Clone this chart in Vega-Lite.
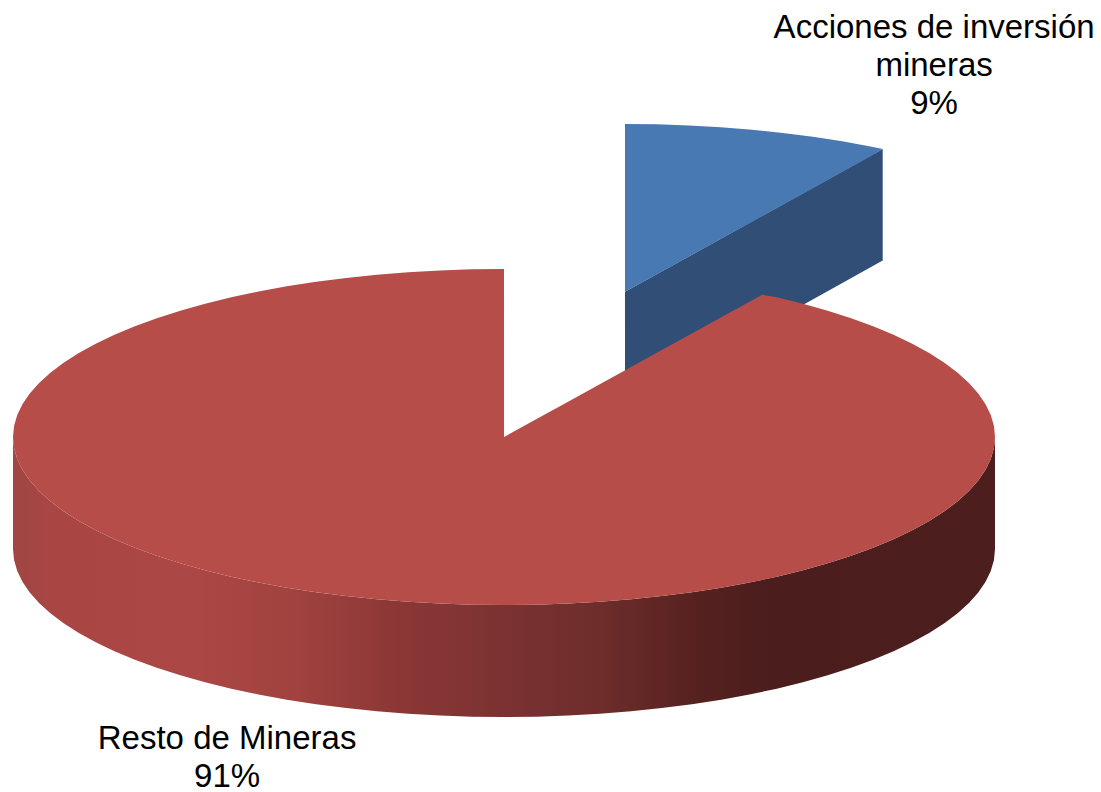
{
"$schema":"https://vega.github.io/schema/vega-lite/v6.json",
"width":1101,"height":792,"padding":0,
"autosize":{"type":"none"},
"background":"#ffffff",
"config":{"view":{"stroke":null}},
"datasets":{
"blueSide":[{"x":24.64,"y":86.4,"y2":19.73},{"x":77.13,"y":171.4,"y2":105}],
"blueTop":[{"x":24.64,"y":186.3,"y2":86.4},{"x":31.18,"y":186.09,"y2":96.95},{"x":37.69,"y":185.44,"y2":107.45},{"x":44.15,"y":184.38,"y2":117.87},{"x":50.52,"y":182.89,"y2":128.14},{"x":56.78,"y":180.99,"y2":138.24},{"x":62.91,"y":178.69,"y2":148.13},{"x":68.88,"y":175.99,"y2":157.76},{"x":74.64,"y":172.9,"y2":167.04},{"x":77.13,"y":171.4,"y2":171.4}],
"redSide":[{"x":-100,"y":0,"y2":-66.67},{"x":-99.79,"y":-6.54,"y2":-73.21},{"x":-99.14,"y":-13.05,"y2":-79.72},{"x":-98.08,"y":-19.51,"y2":-86.18},{"x":-96.59,"y":-25.88,"y2":-92.55},{"x":-94.69,"y":-32.14,"y2":-98.81},{"x":-92.39,"y":-38.27,"y2":-104.94},{"x":-89.69,"y":-44.24,"y2":-110.91},{"x":-86.6,"y":-50,"y2":-116.67},{"x":-83.15,"y":-55.56,"y2":-122.23},{"x":-79.34,"y":-60.88,"y2":-127.55},{"x":-75.18,"y":-65.93,"y2":-132.6},{"x":-70.71,"y":-70.71,"y2":-137.38},{"x":-65.93,"y":-75.18,"y2":-141.85},{"x":-60.88,"y":-79.34,"y2":-146.01},{"x":-55.56,"y":-83.15,"y2":-149.82},{"x":-50,"y":-86.6,"y2":-153.27},{"x":-44.24,"y":-89.69,"y2":-156.36},{"x":-38.27,"y":-92.39,"y2":-159.06},{"x":-32.14,"y":-94.69,"y2":-161.36},{"x":-25.88,"y":-96.59,"y2":-163.26},{"x":-19.51,"y":-98.08,"y2":-164.75},{"x":-13.05,"y":-99.14,"y2":-165.81},{"x":-6.54,"y":-99.79,"y2":-166.46},{"x":0,"y":-100,"y2":-166.67},{"x":6.54,"y":-99.79,"y2":-166.46},{"x":13.05,"y":-99.14,"y2":-165.81},{"x":19.51,"y":-98.08,"y2":-164.75},{"x":25.88,"y":-96.59,"y2":-163.26},{"x":32.14,"y":-94.69,"y2":-161.36},{"x":38.27,"y":-92.39,"y2":-159.06},{"x":44.24,"y":-89.69,"y2":-156.36},{"x":50,"y":-86.6,"y2":-153.27},{"x":55.56,"y":-83.15,"y2":-149.82},{"x":60.88,"y":-79.34,"y2":-146.01},{"x":65.93,"y":-75.18,"y2":-141.85},{"x":70.71,"y":-70.71,"y2":-137.38},{"x":75.18,"y":-65.93,"y2":-132.6},{"x":79.34,"y":-60.88,"y2":-127.55},{"x":83.15,"y":-55.56,"y2":-122.23},{"x":86.6,"y":-50,"y2":-116.67},{"x":89.69,"y":-44.24,"y2":-110.91},{"x":92.39,"y":-38.27,"y2":-104.94},{"x":94.69,"y":-32.14,"y2":-98.81},{"x":96.59,"y":-25.88,"y2":-92.55},{"x":98.08,"y":-19.51,"y2":-86.18},{"x":99.14,"y":-13.05,"y2":-79.72},{"x":99.79,"y":-6.54,"y2":-73.21},{"x":100,"y":0,"y2":-66.67}],
"redTop":[{"x":-100,"y":0,"y2":0},{"x":-99.79,"y":6.54,"y2":-6.54},{"x":-99.14,"y":13.05,"y2":-13.05},{"x":-98.08,"y":19.51,"y2":-19.51},{"x":-96.59,"y":25.88,"y2":-25.88},{"x":-94.69,"y":32.14,"y2":-32.14},{"x":-92.39,"y":38.27,"y2":-38.27},{"x":-89.69,"y":44.24,"y2":-44.24},{"x":-86.6,"y":50,"y2":-50},{"x":-83.15,"y":55.56,"y2":-55.56},{"x":-79.34,"y":60.88,"y2":-60.88},{"x":-75.18,"y":65.93,"y2":-65.93},{"x":-70.71,"y":70.71,"y2":-70.71},{"x":-65.93,"y":75.18,"y2":-75.18},{"x":-60.88,"y":79.34,"y2":-79.34},{"x":-55.56,"y":83.15,"y2":-83.15},{"x":-50,"y":86.6,"y2":-86.6},{"x":-44.24,"y":89.69,"y2":-89.69},{"x":-38.27,"y":92.39,"y2":-92.39},{"x":-32.14,"y":94.69,"y2":-94.69},{"x":-25.88,"y":96.59,"y2":-96.59},{"x":-19.51,"y":98.08,"y2":-98.08},{"x":-13.05,"y":99.14,"y2":-99.14},{"x":-6.54,"y":99.79,"y2":-99.79},{"x":0,"y":100,"y2":-100},{"x":0.01,"y":0,"y2":-100},{"x":6.54,"y":10.53,"y2":-99.79},{"x":13.05,"y":21.02,"y2":-99.14},{"x":19.51,"y":31.42,"y2":-98.08},{"x":25.88,"y":41.68,"y2":-96.59},{"x":32.14,"y":51.76,"y2":-94.69},{"x":38.27,"y":61.64,"y2":-92.39},{"x":44.24,"y":71.25,"y2":-89.69},{"x":50,"y":80.53,"y2":-86.6},{"x":52.6,"y":84.7,"y2":-85.05},{"x":55.56,"y":83.15,"y2":-83.15},{"x":60.88,"y":79.34,"y2":-79.34},{"x":65.93,"y":75.18,"y2":-75.18},{"x":70.71,"y":70.71,"y2":-70.71},{"x":75.18,"y":65.93,"y2":-65.93},{"x":79.34,"y":60.88,"y2":-60.88},{"x":83.15,"y":55.56,"y2":-55.56},{"x":86.6,"y":50,"y2":-50},{"x":89.69,"y":44.24,"y2":-44.24},{"x":92.39,"y":38.27,"y2":-38.27},{"x":94.69,"y":32.14,"y2":-32.14},{"x":96.59,"y":25.88,"y2":-25.88},{"x":98.08,"y":19.51,"y2":-19.51},{"x":99.14,"y":13.05,"y2":-13.05},{"x":99.79,"y":6.54,"y2":-6.54},{"x":100,"y":0,"y2":0}],
"labels":[{"x":87.6,"y":243.5,"text":"Acciones de inversión"},{"x":87.6,"y":220.8,"text":"mineras"},{"x":87.6,"y":198.2,"text":"9%"},{"x":-56.4,"y":-179.8,"text":"Resto de Mineras"},{"x":-56.4,"y":-202.4,"text":"91%"}]
},
"encoding":{
"x":{"field":"x","type":"quantitative","axis":null,"scale":{"domain":[-102.648,121.589],"nice":false,"zero":false}},
"y":{"field":"y","type":"quantitative","axis":null,"scale":{"domain":[-211.31,260.12],"nice":false,"zero":false}}
},
"layer":[
{"data":{"name":"blueSide"},"mark":{"type":"area","color":"#314f76"},"encoding":{"y2":{"field":"y2"}}},
{"data":{"name":"blueTop"},"mark":{"type":"area","color":"#4979b2"},"encoding":{"y2":{"field":"y2"}}},
{"data":{"name":"redSide"},"mark":{"type":"area","color":{"gradient":"linear","x1":0,"y1":0,"x2":1,"y2":0,"stops":[{"offset":0,"color":"#9f4643"},{"offset":0.04,"color":"#a94644"},{"offset":0.19,"color":"#ab4744"},{"offset":0.292,"color":"#a0423f"},{"offset":0.394,"color":"#8b3735"},{"offset":0.496,"color":"#7c3232"},{"offset":0.598,"color":"#6d2d2b"},{"offset":0.7,"color":"#55211f"},{"offset":0.771,"color":"#4b1d1d"},{"offset":1,"color":"#4d1e1e"}]}},"encoding":{"y2":{"field":"y2"}}},
{"data":{"name":"redTop"},"mark":{"type":"area","color":"#b74d49"},"encoding":{"y2":{"field":"y2"}}},
{"data":{"name":"labels"},"mark":{"type":"text","font":"Liberation Sans","fontSize":33,"align":"center","baseline":"middle","color":"#000000"},"encoding":{"text":{"field":"text"}}}
]
}
